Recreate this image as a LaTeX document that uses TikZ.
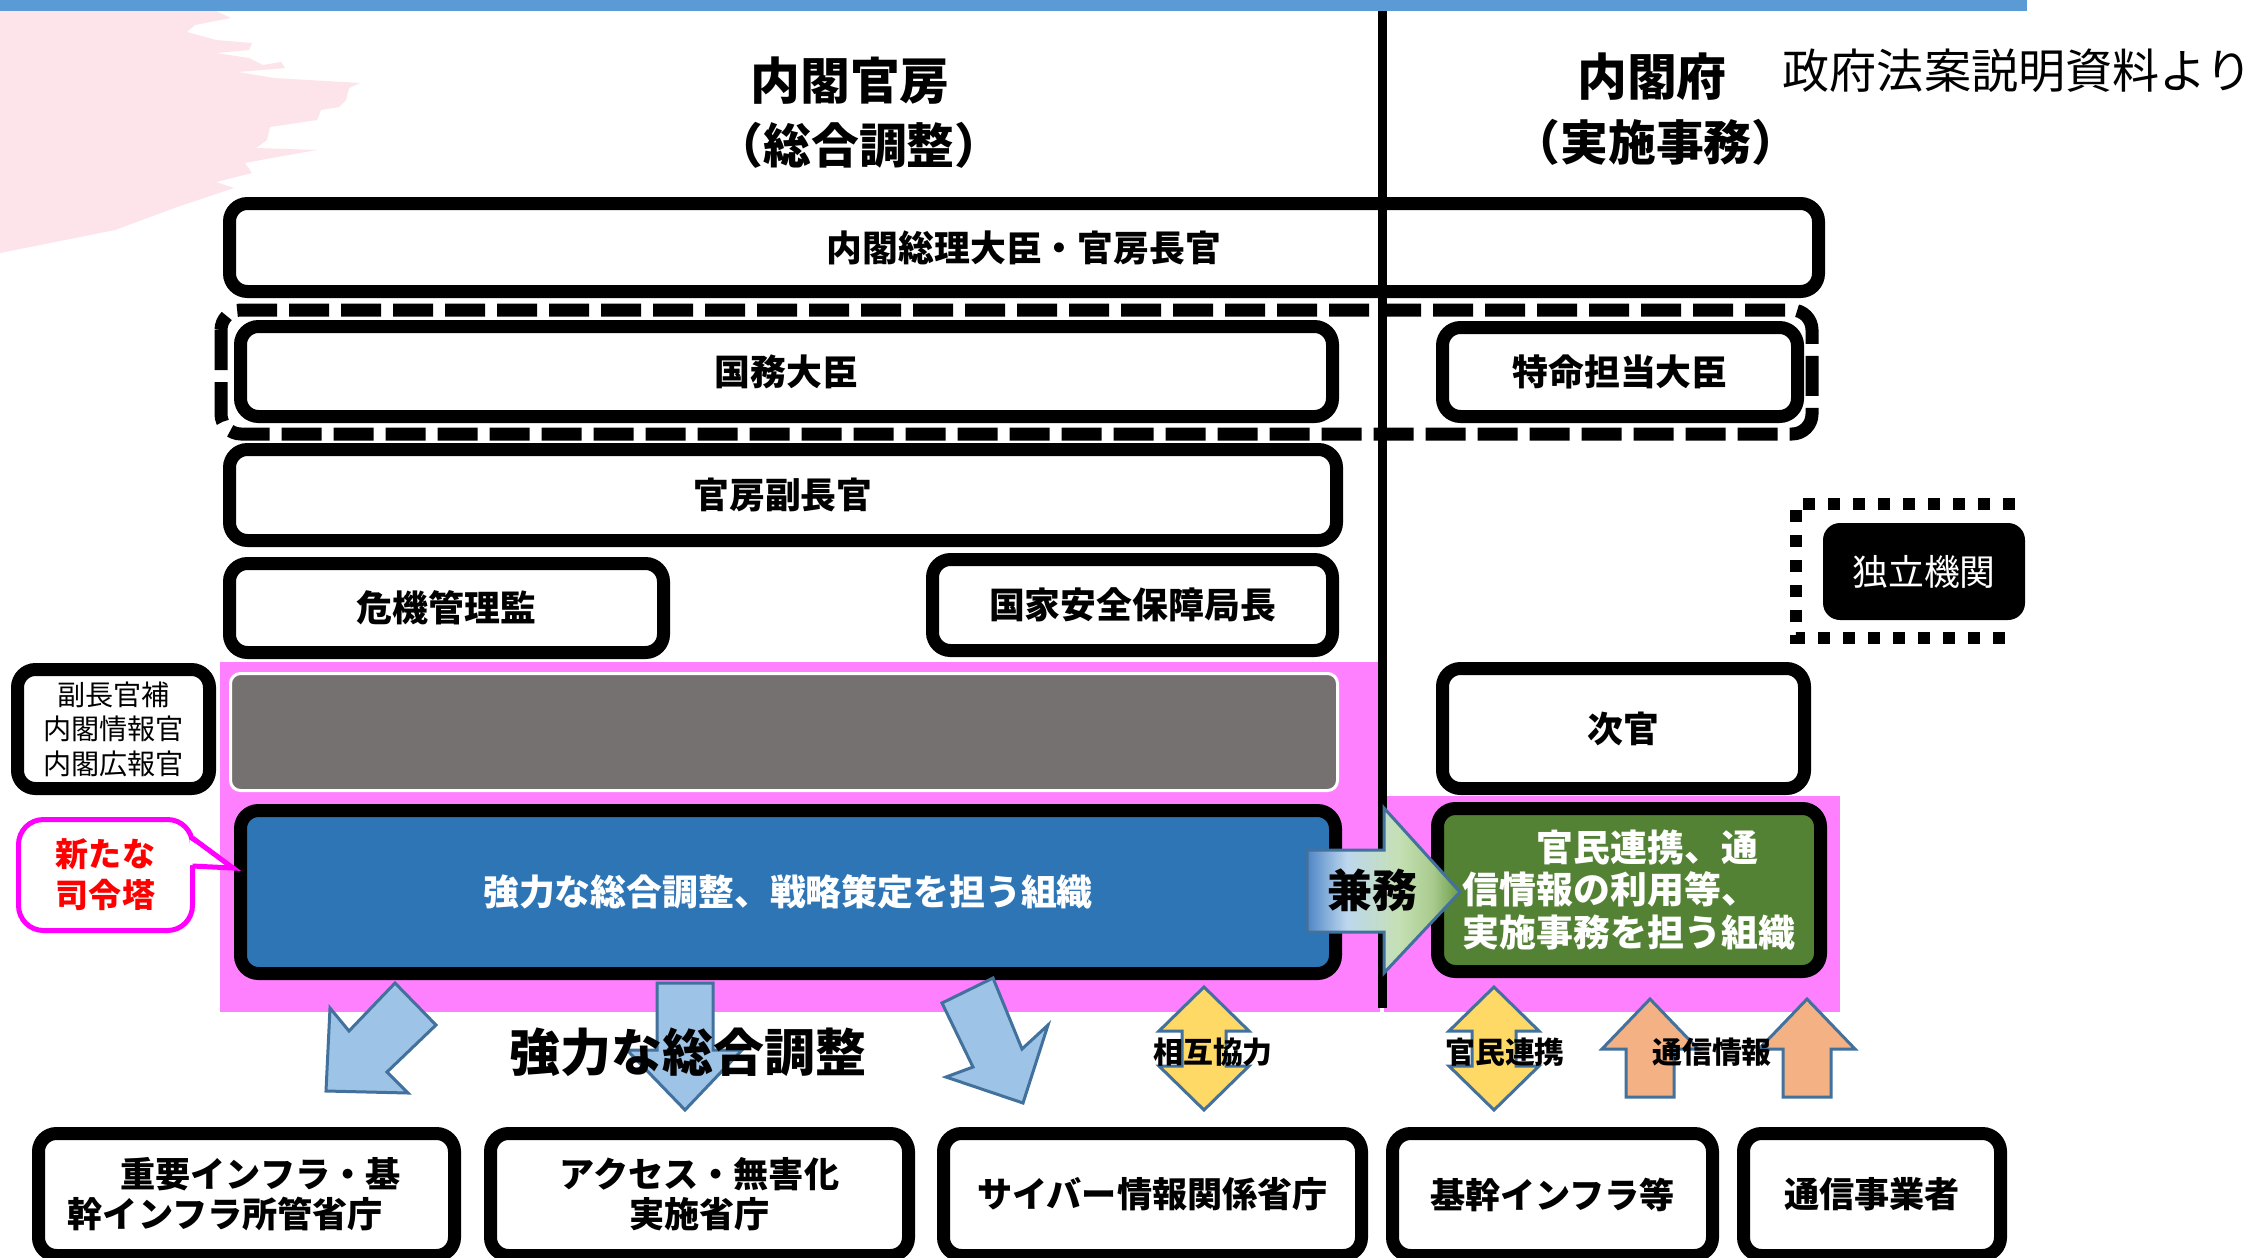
\documentclass[tikz,border=0pt]{standalone}
\usepackage{fontspec}
\setmainfont{Noto Sans CJK JP}

\definecolor{barblue}{HTML}{5B9BD5}
\definecolor{decopink}{HTML}{FCE4EA}
\definecolor{areapink}{HTML}{FF80FF}
\definecolor{calloutmagenta}{HTML}{FF00FF}
\definecolor{boxgray}{HTML}{767171}
\definecolor{boxblue}{HTML}{2E75B6}
\definecolor{boxgreen}{HTML}{548235}
\definecolor{arrowline}{HTML}{41719C}
\definecolor{arrowblue}{HTML}{9DC3E6}
\definecolor{arrowyellow}{HTML}{FFD966}
\definecolor{arroworange}{HTML}{F4B183}
\definecolor{kenmuA}{HTML}{4F86C6}
\definecolor{kenmuB}{HTML}{BDD7EE}
\definecolor{kenmuC}{HTML}{C5E0B4}
\definecolor{kenmuD}{HTML}{A9CB8E}
\definecolor{kenmuE}{HTML}{6A9A47}

\pgfdeclarehorizontalshading{kenmushade}{100bp}{color(0bp)=(kenmuA); color(25bp)=(kenmuA); color(38bp)=(kenmuB); color(55bp)=(kenmuC); color(66bp)=(kenmuD); color(75bp)=(kenmuE); color(100bp)=(kenmuE)}

\begin{document}
\begin{tikzpicture}[x = 0.1mm, y = -0.1mm,
	box/.style = {draw, line width = 1.3mm, rounded corners = 1.8mm, fill = white, inner sep = 0pt, font = \fontsize{10.2}{12}\selectfont\bfseries},
	bottombox/.style = {box, minimum height = 12.2mm, align = center, font = \fontsize{10}{11.4}\selectfont\bfseries},
	blockarrow/.style = {draw = arrowline, line width = 0.3mm, line join = miter},
	arrowlabel/.style = {font = \fontsize{8.5}{10}\selectfont\bfseries}]

	\useasboundingbox (0, 0) rectangle (2258, 1257);
	\fill [white] (0, 0) rectangle (2258, 1257);

	% Background decoration + title bar

	\fill [decopink] (0, 11) -- (216, 11) -- (231, 18) -- (195, 25) -- (187, 32) -- (216, 40) -- (252, 43) -- (249, 50) -- (216, 53) -- (249, 58) -- (263, 65) -- (281, 62) -- (285, 68) -- (238, 72) -- (274, 78) -- (360, 83) -- (349, 88) -- (346, 100) -- (339, 107) -- (321, 110) -- (317, 120) -- (270, 127) -- (267, 140) -- (256, 148) -- (317, 150) -- (277, 157) -- (245, 163) -- (252, 173) -- (216, 182) -- (234, 188) -- (177, 207) -- (115, 230) -- (0, 253) -- cycle;
	\fill [barblue] (0, 0) rectangle (2027, 11);

	% Headings

	\node (kanbo) [font = \fontsize{14.2}{16}\selectfont\bfseries] at (850, 81) {内閣官房};
	\node (kanbosub) [font = \fontsize{13.6}{16}\selectfont\bfseries] at (859, 145) {（総合調整）};
	\node (cao) [font = \fontsize{14.2}{16}\selectfont\bfseries] at (1652, 77) {内閣府};
	\node (caosub) [font = \fontsize{13.6}{16}\selectfont\bfseries] at (1656, 142) {（実施事務）};
	\node (source) [anchor = west, inner sep = 0pt, font = \fontsize{13.4}{16}\selectfont] at (1782, 71) {政府法案説明資料より};

	% Pink areas

	\fill [areapink] (220, 662) rectangle (1380, 1012);
	\fill [areapink] (1384, 796) rectangle (1840, 1012);

	% Upper boxes

	\node (sori) [box, minimum width = 158.9mm, minimum height = 8.8mm] at (1024, 247.5) {内閣総理大臣・官房長官};
	\node (kokumu) [box, minimum width = 109.2mm, minimum height = 9mm] at (786.5, 371.5) {国務大臣};
	\node (tokumei) [box, minimum width = 35.5mm, minimum height = 8.9mm] at (1620, 372) {特命担当大臣};
	\node (fukuchokan) [box, minimum width = 110.7mm, minimum height = 9.1mm] at (783, 495) {官房副長官};
	\node (kiki) [box, minimum width = 43.4mm, minimum height = 8.9mm] at (446.5, 608) {危機管理監};
	\node (kokka) [box, minimum width = 40mm, minimum height = 9.1mm] at (1132.5, 605) {国家安全保障局長};

	\draw [line width = 1.3mm, dash pattern = on 4mm off 1.2mm, rounded corners = 2mm] (221, 310) rectangle (1812, 434);

	% Middle rows

	\node (hosa) [box, align = center, minimum width = 19.2mm, minimum height = 11.9mm, font = \fontsize{8}{9.8}\selectfont] at (113.5, 729) {副長官補\\内閣情報官\\内閣広報官};
	\node (gray) [draw = white, line width = 0.3mm, fill = boxgray, rounded corners = 1mm, minimum width = 110.7mm, minimum height = 11.7mm] at (784, 732) {};
	\node (jikan) [box, minimum width = 36.2mm, minimum height = 12mm] at (1623.5, 728.5) {次官};

	\node (shireito) [box, fill = boxblue, text = white, minimum width = 109.5mm, minimum height = 16.3mm] at (788, 892) {強力な総合調整、戦略策定を担う組織};
	\node (jisshi) [box, fill = boxgreen, text = white, align = left, minimum width = 38.3mm, minimum height = 16.3mm, font = \fontsize{10.5}{12.1}\selectfont\bfseries] at (1629, 890) {\hspace*{2em}官民連携、通\\信情報の利用等、\\実施事務を担う組織};

	% Divider between the two offices

	\draw [line width = 0.9mm] (1382, 11) -- (1382, 1008);

	% Joint duty arrow

	\draw [blockarrow, shading = kenmushade] (1307, 850) -- (1384, 850) -- (1384, 808) -- (1460, 892) -- (1384, 973) -- (1384, 932) -- (1307, 932) -- cycle;
	\node (kenmu) [font = \fontsize{12.8}{14}\selectfont\bfseries] at (1372, 890) {兼務};

	% Callout

	\node (shintana) [draw = calloutmagenta, line width = 0.5mm, rounded corners = 2.5mm, fill = white, text = red, align = center, minimum width = 17.4mm, minimum height = 11.1mm, font = \fontsize{9.4}{11.7}\selectfont\bfseries] at (105.5, 875) {新たな\\司令塔};
	\coordinate (tip) at (233, 868);
	\fill [white] (190, 840) -- (tip) -- (190, 865) -- cycle;
	\draw [calloutmagenta, line width = 0.5mm] (192.5, 838) -- (tip) -- (192.5, 866);

	% Independent body

	\draw [line width = 1.2mm, dash pattern = on 1.2mm off 1.3mm] (2015, 504) -- (1796, 504) -- (1796, 638) -- (2015, 638);
	\node (dokuritsu) [fill = black, rounded corners = 1.7mm, text = white, minimum width = 20.2mm, minimum height = 9.7mm, font = \fontsize{10.2}{12}\selectfont] at (1924, 571.5) {独立機関};

	% Coordination arrows

	\draw [blockarrow, fill = arrowblue] (326, 1091) -- (330, 1008) -- (349, 1031) -- (395, 983) -- (436, 1025) -- (387, 1072) -- (408, 1093) -- cycle;
	\draw [blockarrow, fill = arrowblue] (657, 983) -- (713, 983) -- (713, 1050) -- (742, 1050) -- (685, 1110) -- (627, 1050) -- (657, 1050) -- cycle;
	\draw [blockarrow, fill = arrowblue] (993, 978) -- (942, 1003) -- (973, 1067) -- (946, 1077) -- (1023, 1103) -- (1048, 1025) -- (1022, 1049) -- cycle;

	\foreach \c in {1204, 1494}
		\draw [blockarrow, fill = arrowyellow] (\c, 987) -- ({\c + 45}, 1031) -- ({\c + 22}, 1031) -- ({\c + 22}, 1066) -- ({\c + 45}, 1066) -- (\c, 1110) -- ({\c - 45}, 1066) -- ({\c - 22}, 1066) -- ({\c - 22}, 1031) -- ({\c - 45}, 1031) -- cycle;

	\foreach \c in {1650, 1807}
		\draw [blockarrow, fill = arroworange] (\c, 999) -- ({\c + 48}, 1049) -- ({\c + 24}, 1049) -- ({\c + 24}, 1097) -- ({\c - 24}, 1097) -- ({\c - 24}, 1049) -- ({\c - 48}, 1049) -- cycle;

	\node (kyoryoku) [font = \fontsize{14.5}{16}\selectfont\bfseries] at (688, 1052) {強力な総合調整};
	\node (sogo) [arrowlabel] at (1213, 1052) {相互協力};
	\node (kanmin) [arrowlabel] at (1505, 1052) {官民連携};
	\node (tsushin) [arrowlabel] at (1712, 1052) {通信情報};

	% Ministries + operators

	\node (infra) [bottombox, align = left, minimum width = 41.6mm] at (246.5, 1194.5) {\hspace*{1.5em}重要インフラ・基\hspace*{0.7em}\\幹インフラ所管省庁};
	\node (access) [bottombox, minimum width = 41.8mm] at (699.5, 1194.5) {アクセス・無害化\\実施省庁};
	\node (cyber) [bottombox, minimum width = 41.8mm] at (1152.5, 1194.5) {サイバー情報関係省庁};
	\node (kikan) [bottombox, minimum width = 32mm] at (1552.5, 1194.5) {基幹インフラ等};
	\node (tsushinjigyo) [bottombox, minimum width = 25.7mm] at (1872, 1194.5) {通信事業者};

\end{tikzpicture}
\end{document}
